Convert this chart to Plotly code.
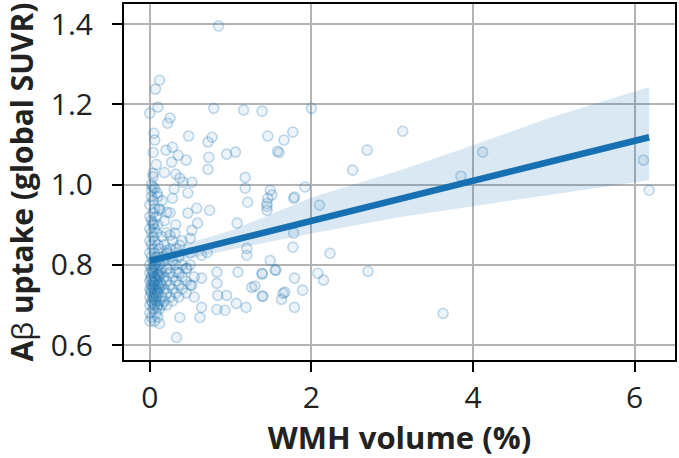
import plotly.graph_objects as go

# ---- scatter data (WMH volume %, global SUVR) ----
wmh = [
    # dense cluster near zero
    0.00, 0.00, 0.00, 0.00, 0.00, 0.00, 0.00, 0.00, 0.00, 0.00, 0.00, 0.00, 0.00,
    0.02, 0.02, 0.02, 0.02, 0.02, 0.02, 0.02, 0.02, 0.02, 0.02, 0.02, 0.02,
    0.04, 0.04, 0.04, 0.04, 0.04, 0.04, 0.04, 0.04, 0.04, 0.04, 0.04, 0.04, 0.04,
    0.06, 0.06, 0.06, 0.06, 0.06, 0.06, 0.06, 0.06, 0.06, 0.06, 0.06,
    0.08, 0.08, 0.08, 0.08, 0.08, 0.08, 0.08, 0.08, 0.08, 0.08,
    0.10, 0.10, 0.10, 0.10, 0.10, 0.10, 0.10, 0.10, 0.10,
    0.12, 0.12, 0.12, 0.12, 0.12, 0.12, 0.12,
    0.15, 0.15, 0.15, 0.15, 0.15, 0.15, 0.15,
    0.18, 0.18, 0.18, 0.18, 0.18, 0.18, 0.18,
    0.21, 0.21, 0.21, 0.21, 0.21, 0.21,
    0.25, 0.25, 0.25, 0.25, 0.25, 0.25,
    0.28, 0.28, 0.28, 0.28, 0.28,
    0.32, 0.32, 0.32, 0.32, 0.32,
    0.36, 0.36, 0.36, 0.36,
    0.40, 0.40, 0.40, 0.40,
    0.45, 0.45, 0.45,
    0.50, 0.50, 0.50,
    0.55, 0.55,
    # extra density in the dark column
    0.03, 0.05, 0.07, 0.09, 0.03, 0.05, 0.07, 0.09, 0.03, 0.05, 0.07, 0.09,
    0.01, 0.11, 0.13, 0.01, 0.11, 0.13,
    # individual points, upper part of cluster
    0.85, 0.12, 0.07, 0.10, 0.00, 0.79, 1.16, 1.39, 2.00, 0.25, 0.22,
    0.48, 0.77, 0.72, 1.46, 1.66, 1.77, 1.58, 1.60, 0.05, 0.06, 0.28, 0.20,
    0.35, 0.45, 0.27, 0.73, 0.95, 1.06, 0.72, 1.18, 0.32, 0.37, 0.41, 0.52,
    0.04, 0.02, 0.09, 0.30, 0.47, 1.49, 1.46, 1.45, 1.79, 1.92, 2.10,
    # middle band
    0.04, 0.28, 0.12, 0.21, 0.47, 0.58, 0.74, 1.18, 1.21, 1.45, 1.51, 1.78,
    1.08, 0.59, 0.52, 0.31, 0.25, 0.50, 0.37, 0.04, 0.21, 0.71, 0.64, 1.20,
    1.20, 1.49, 1.78, 1.77, 2.23, 1.45,
    # lower part
    0.46, 0.33, 0.83, 1.09, 1.39, 1.55, 1.56, 1.39, 1.79, 2.08, 2.15, 2.70,
    0.64, 0.83, 0.52, 1.26, 1.30, 1.40, 1.65, 1.67, 1.63, 1.39, 1.89,
    0.84, 0.95, 1.07, 1.19, 0.83, 0.93, 0.64, 0.62, 1.79, 0.37, 0.33, 0.12,
    # far right
    2.51, 2.69, 3.13, 4.12, 3.85, 6.11, 6.18, 3.63,
]
suvr = [
    0.70, 0.72, 0.74, 0.76, 0.78, 0.80, 0.83, 0.86, 0.89, 0.92, 0.95, 0.68, 0.66,
    0.71, 0.73, 0.75, 0.77, 0.79, 0.82, 0.85, 0.88, 0.91, 0.97, 1.00, 0.67,
    0.69, 0.72, 0.74, 0.76, 0.78, 0.81, 0.84, 0.87, 0.90, 0.93, 0.96, 1.02, 1.08,
    0.70, 0.73, 0.75, 0.77, 0.80, 0.83, 0.86, 0.89, 0.94, 0.99, 0.66,
    0.71, 0.72, 0.74, 0.76, 0.79, 0.82, 0.88, 0.92, 1.05, 0.68,
    0.70, 0.73, 0.75, 0.78, 0.81, 0.85, 0.90, 0.97, 0.67,
    0.71, 0.74, 0.77, 0.80, 0.84, 0.69, 0.94,
    0.72, 0.75, 0.78, 0.82, 0.87, 0.70, 0.96,
    0.71, 0.74, 0.77, 0.81, 0.85, 0.91, 1.03,
    0.73, 0.76, 0.79, 0.83, 0.88, 0.70,
    0.72, 0.75, 0.78, 0.84, 0.80, 0.93,
    0.71, 0.77, 0.81, 0.86, 0.74,
    0.73, 0.76, 0.80, 0.84, 0.90,
    0.72, 0.78, 0.82, 0.75,
    0.74, 0.77, 0.80, 0.86,
    0.73, 0.79, 0.76,
    0.75, 0.80, 0.83,
    0.77, 0.72,
    0.705, 0.715, 0.725, 0.735, 0.745, 0.755, 0.765, 0.775, 0.785, 0.795, 0.805, 0.695,
    0.735, 0.745, 0.755, 0.765, 0.775, 0.785,
    1.395, 1.26, 1.238, 1.193, 1.178, 1.19, 1.186, 1.183, 1.19, 1.166, 1.153,
    1.121, 1.118, 1.106, 1.121, 1.111, 1.131, 1.083, 1.080, 1.128, 1.111, 1.093, 1.086,
    1.073, 1.061, 1.056, 1.068, 1.076, 1.081, 1.038, 1.018, 1.026, 1.016, 1.006, 1.006,
    1.028, 0.986, 0.979, 0.989, 0.979, 0.986, 0.966, 0.946, 0.969, 0.994, 0.949,
    0.994, 0.966, 0.936, 0.931, 0.929, 0.941, 0.936, 0.991, 0.956, 0.953, 0.974, 0.966,
    0.904, 0.904, 0.886, 0.879, 0.874, 0.866, 0.849, 0.904, 0.836, 0.831, 0.824, 0.841,
    0.824, 0.811, 0.879, 0.844, 0.829, 0.936,
    0.792, 0.782, 0.782, 0.782, 0.777, 0.787, 0.787, 0.779, 0.767, 0.779, 0.762, 0.784,
    0.767, 0.754, 0.749, 0.744, 0.747, 0.722, 0.729, 0.732, 0.714, 0.722, 0.737,
    0.724, 0.724, 0.704, 0.694, 0.689, 0.687, 0.694, 0.669, 0.694, 0.669, 0.619, 0.654,
    1.036, 1.086, 1.133, 1.081, 1.021, 1.061, 0.986, 0.679,
]

# ---- regression line and confidence band ----
fit_x = [0.0, 6.18]
fit_y = [0.81, 1.118]
band_x = [0.0, 1.0, 2.0, 3.1, 4.0, 5.0, 6.18]
band_upper = [0.826, 0.885, 0.968, 1.036, 1.098, 1.17, 1.243]
band_lower = [0.795, 0.838, 0.878, 0.919, 0.946, 0.976, 1.011]

x_ticks = [0, 2, 4, 6]
y_ticks = [0.6, 0.8, 1.0, 1.2, 1.4]
y_tick_text = ["0.6", "0.8", "1.0", "1.2", "1.4"]

fig = go.Figure()

fig.add_trace(go.Scatter(
    x=wmh, y=suvr, mode="markers",
    marker=dict(size=10, color="rgba(31,119,180,0.08)",
                line=dict(color="rgba(31,119,180,0.28)", width=1.6)),
    showlegend=False, hoverinfo="skip"))

fig.add_trace(go.Scatter(
    x=band_x, y=band_lower, mode="lines", line=dict(width=0),
    showlegend=False, hoverinfo="skip"))
fig.add_trace(go.Scatter(
    x=band_x, y=band_upper, mode="lines", line=dict(width=0),
    fill="tonexty", fillcolor="rgba(31,119,180,0.17)",
    showlegend=False, hoverinfo="skip"))

fig.add_trace(go.Scatter(
    x=fit_x, y=fit_y, mode="lines",
    line=dict(color="#1670b2", width=6.5),
    showlegend=False, hoverinfo="skip"))

axis_common = dict(
    showgrid=True, gridcolor="#b3b3b3", gridwidth=1.5,
    showline=True, linecolor="black", linewidth=2, mirror=True,
    ticks="outside", ticklen=10, tickwidth=2, tickcolor="black",
    zeroline=False, automargin=False,
    tickfont=dict(family="Open Sans", size=30, color="#222222"),
)

fig.update_xaxes(
    range=[-0.32, 6.5], tickvals=x_ticks,
    title=dict(text="<b>WMH volume (%)</b>",
               font=dict(family="Open Sans", size=31, color="#222222"),
               standoff=6),
    **axis_common)
fig.update_yaxes(
    range=[0.563, 1.45], tickvals=y_ticks, ticktext=y_tick_text,
    ticklabelstandoff=13,
    title=dict(text="<b>A</b><span style='font-weight:normal'>β</span><b> uptake (global SUVR)</b>",
               font=dict(family="Open Sans", size=30, color="#222222"),
               standoff=8),
    **axis_common)

fig.update_layout(
    width=679, height=458,
    margin=dict(l=124, r=4, t=4, b=98),
    plot_bgcolor="white", paper_bgcolor="white",
)

fig.write_html("out.html",
               config={"displayModeBar": False},
               post_script="document.body.style.margin='0';document.body.style.overflow='hidden';")
